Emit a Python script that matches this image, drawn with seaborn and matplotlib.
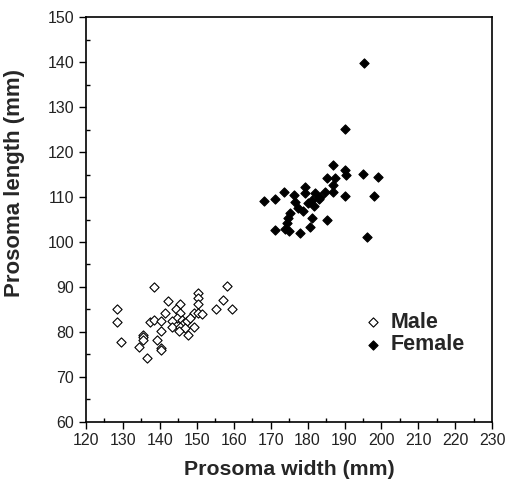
import matplotlib
matplotlib.use("Agg")
import matplotlib.pyplot as plt
import seaborn as sns
import pandas as pd
from matplotlib.ticker import MultipleLocator

male_width = [138.4, 158.1, 142.3, 145.5, 150.3, 150.3, 150.3, 157.2, 155.2, 159.5,
              128.5, 128.5, 129.4, 136.4, 134.4, 135.4, 135.5, 135.5, 140.2, 140.2,
              139.3, 140.3, 137.3, 138.5, 140.3, 141.5, 144.4, 145.5, 144.6, 143.2,
              143.2, 145.9, 146.4, 147.3, 145.5, 146.8, 145.3, 147.5, 149.3, 149.3,
              150.4, 151.4, 148.2]
male_length = [90.0, 90.2, 86.9, 86.1, 88.6, 87.5, 86.2, 87.1, 85.1, 85.1,
               85.0, 82.1, 77.8, 74.1, 76.7, 79.3, 78.9, 78.2, 76.3, 75.9,
               78.2, 80.2, 82.1, 82.6, 82.5, 84.1, 85.0, 84.1, 83.0, 82.3,
               81.1, 82.6, 81.9, 82.3, 81.1, 80.8, 80.2, 79.3, 81.1, 84.1,
               84.1, 84.0, 83.0]

female_width = [195.3, 190.2, 187.0, 190.0, 190.5, 195.1, 199.2, 185.2, 187.0, 187.0,
                184.8, 183.4, 182.1, 181.2, 179.3, 179.3, 176.2, 176.6, 177.5, 173.5,
                180.2, 175.3, 174.8, 174.4, 173.9, 181.2, 180.7, 185.2, 178.0, 171.2,
                168.2, 171.2, 190.2, 198.1, 196.1, 187.5, 181.7, 183.0, 178.8, 175.0]
female_length = [139.9, 125.1, 117.1, 116.0, 114.9, 115.1, 114.5, 114.2, 112.7, 111.2,
                 111.2, 110.1, 110.8, 109.3, 112.3, 110.8, 110.5, 109.0, 107.5, 111.2,
                 108.6, 106.4, 105.3, 104.2, 103.0, 105.3, 103.4, 104.9, 101.9, 102.7,
                 109.2, 109.6, 110.2, 110.2, 101.0, 114.2, 108.0, 109.5, 106.8, 102.5]

sex_labels = ["Male", "Female"]

df = pd.DataFrame({
    "width": male_width + female_width,
    "length": male_length + female_length,
    "sex": [sex_labels[0]] * len(male_width) + [sex_labels[1]] * len(female_width),
})

sns.set_style("ticks")
plt.rcParams["font.family"] = ["Liberation Sans", "DejaVu Sans"]

fig = plt.figure(figsize=(5.09, 4.83), dpi=100)
ax = fig.add_axes([0.169, 0.127, 0.798, 0.837])

for lab, face in zip(sex_labels, ["white", "black"]):
    sub = df[df["sex"] == lab]
    sns.scatterplot(data=sub, x="width", y="length", marker="D", s=22,
                    facecolor=face, edgecolor="black", linewidth=0.8,
                    ax=ax, label=lab, zorder=3)

ax.set_xlim(120, 230)
ax.set_ylim(60, 150)
ax.xaxis.set_major_locator(MultipleLocator(10))
ax.yaxis.set_major_locator(MultipleLocator(10))
ax.xaxis.set_minor_locator(MultipleLocator(5))
ax.yaxis.set_minor_locator(MultipleLocator(5))
ax.tick_params(which="major", direction="out", length=5, width=1, labelsize=11.5,
               color="black", labelcolor="#222222")
ax.tick_params(which="minor", direction="in", length=3, width=1, color="black")
for sp in ax.spines.values():
    sp.set_visible(True)
    sp.set_linewidth(1.2)
    sp.set_color("black")

ax.set_xlabel("Prosoma width (mm)", fontsize=15.3, fontweight="bold", labelpad=8)
ax.set_ylabel("Prosoma length (mm)", fontsize=16, fontweight="bold")
ax.yaxis.set_label_coords(-0.150, 0.59)

leg = ax.legend(loc="upper left", bbox_to_anchor=(0.625, 0.32), frameon=False,
                prop={"size": 15.5, "weight": "bold"}, handletextpad=0.15,
                labelspacing=0.08, markerscale=1.0, handlelength=1.3)

fig.savefig("out.png", dpi=100)
